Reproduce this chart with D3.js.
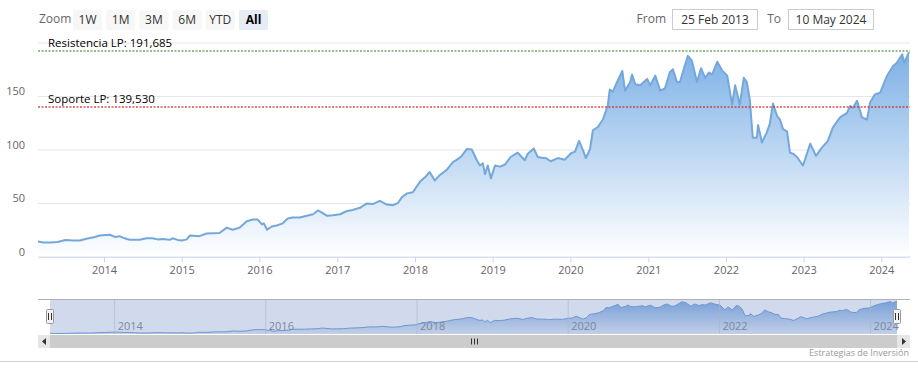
<!DOCTYPE html>
<html>
<head>
<meta charset="utf-8">
<script src="https://cdn.jsdelivr.net/npm/d3@7"></script>
<style>
  body { margin: 0; background: #fff; }
  svg text { font-family: "Open Sans", "DejaVu Sans", sans-serif; }
</style>
</head>
<body>
<svg id="chart" width="918" height="371"></svg>
<script>
/************************************ Data *******************************/
var dates = ["2013-02-25","2013-03-22","2013-04-20","2013-05-28","2013-07-04","2013-08-11","2013-09-09","2013-10-11",
  "2013-11-14","2013-12-12","2014-01-28","2014-02-21","2014-03-15","2014-04-08","2014-05-01","2014-06-17","2014-07-20",
  "2014-08-17","2014-09-10","2014-10-04","2014-11-06","2014-11-20","2014-12-13","2015-01-02","2015-01-25","2015-02-09",
  "2015-03-25","2015-04-28","2015-06-28","2015-08-01","2015-08-28","2015-10-01","2015-11-03","2015-12-01","2015-12-24",
  "2016-01-13","2016-01-22","2016-02-06","2016-02-28","2016-03-22","2016-04-20","2016-05-13","2016-06-06","2016-07-09",
  "2016-08-11","2016-09-09","2016-10-02","2016-10-21","2016-11-14","2016-12-12","2017-01-14","2017-02-16","2017-03-14",
  "2017-04-17","2017-05-19","2017-06-17","2017-07-20","2017-08-22","2017-09-20","2017-10-13","2017-11-01","2017-11-25",
  "2017-12-22","2018-01-25","2018-02-17","2018-03-11","2018-04-04","2018-04-27","2018-05-30","2018-06-27","2018-07-21",
  "2018-08-09","2018-09-02","2018-09-25","2018-10-19","2018-11-02","2018-11-16","2018-11-26","2018-12-09","2018-12-24",
  "2019-01-12","2019-02-05","2019-02-28","2019-03-26","2019-04-29","2019-06-01","2019-06-15","2019-07-13","2019-08-01",
  "2019-08-25","2019-09-08","2019-10-01","2019-11-04","2019-12-06","2020-01-04","2020-01-23","2020-02-11","2020-03-01",
  "2020-03-14","2020-04-02","2020-04-16","2020-05-09","2020-06-02","2020-06-25","2020-07-04","2020-07-19","2020-08-07",
  "2020-09-01","2020-09-14","2020-10-08","2020-10-17","2020-11-01","2020-11-24","2020-12-27","2021-01-10","2021-02-03",
  "2021-02-26","2021-03-20","2021-04-13","2021-04-27","2021-05-16","2021-05-30","2021-06-18","2021-07-06","2021-07-25",
  "2021-08-18","2021-09-06","2021-09-25","2021-10-14","2021-10-28","2021-11-21","2021-12-14","2022-01-07","2022-01-30",
  "2022-02-13","2022-03-07","2022-03-26","2022-04-09","2022-04-23","2022-05-07","2022-05-26","2022-06-01","2022-06-19",
  "2022-07-12","2022-07-26","2022-08-10","2022-08-29","2022-09-12","2022-09-26","2022-10-15","2022-10-29","2022-11-13",
  "2022-12-01","2022-12-25","2022-12-29","2023-01-18","2023-02-01","2023-02-28","2023-03-27","2023-04-25","2023-05-18",
  "2023-06-21","2023-07-23","2023-08-07","2023-08-21","2023-09-09","2023-10-02","2023-10-26","2023-11-09","2023-12-02",
  "2023-12-26","2024-01-28","2024-02-25","2024-03-14","2024-04-08","2024-04-17","2024-05-10"];

var prices = [14,13,13,13.5,15.5,15,15,16.6,18,19.7,20.3,18.3,19,17,15.6,15.6,17,
  17,16,16.4,15.6,17,15.5,15,16,19.7,
  19,21.5,22,27,25,27,33,34.5,34.5,
  30,31,25,28,29,31,35.5,36.5,36.5,
  38,39.5,43,41,38,38.5,39.5,42.5,43.5,
  45.5,49.5,49,52,48.5,48,50,55.5,59,
  60,70,74,79,71,76,81,88,91,
  94,100.5,100,90,85,87,77,85,73,
  85,84,86,93,97,90,96,101,93,
  92,92,89,92,90.5,96.5,98,108,99,
  92,100,118,121,128,141,156,154,163,
  173.5,155,163,170,161,160,166,160,169,
  155,157,172.5,175,163,163,176,187.5,183,
  163,176,167,172,170,182,174,169,142,
  160,142,167,163,147,111,111,123,106.5,
  116,124,143,131.5,128,119,117,97,96,
  93,86,85,97,105.5,94,101.5,108,120.5,
  130,134,140.5,139,145.5,130,128,144,151.5,
  153,169,178,181,189,181,191];

var yTicks = [0, 50, 100, 150, 200];
var zoomButtons = ["1W", "1M", "3M", "6M", "YTD", "All"];
var fromDate = "25 Feb 2013";
var toDate = "10 May 2024";
var levelNames = ["Resistencia LP: 191,685", "Soporte LP: 139,530"];
var levelValues = [191.685, 139.53];
var levelColors = ["#4b9438", "#cc2a24"];

/************************************ Setup *******************************/
var parseDate = d3.timeParse("%Y-%m-%d");
var series = dates.map(function(d, i) { return { date: parseDate(d), value: prices[i] }; });

var svg = d3.select("#chart");
var plotLeft = 38, plotRight = 909, plotTop = 42.5, plotBottom = 256.5;

var x = d3.scaleTime().domain([series[0].date, series[series.length - 1].date]).range([plotLeft, plotRight]);
var y = d3.scaleLinear().domain([0, 200]).range([plotBottom, plotTop]);

var defs = svg.append("defs");
var grad = defs.append("linearGradient").attr("id", "areaGrad")
  .attr("gradientUnits", "userSpaceOnUse").attr("x1", 0).attr("x2", 0).attr("y1", plotTop).attr("y2", plotBottom);
grad.append("stop").attr("offset", 0).attr("stop-color", "#78ade5");
grad.append("stop").attr("offset", 1).attr("stop-color", "#ffffff");

var navGrad = defs.append("linearGradient").attr("id", "navGrad")
  .attr("gradientUnits", "userSpaceOnUse").attr("x1", 0).attr("x2", 0).attr("y1", 299).attr("y2", 334);
navGrad.append("stop").attr("offset", 0).attr("stop-color", "#6d9fdc");
navGrad.append("stop").attr("offset", 1).attr("stop-color", "#e6edf7");

/************************************ Range selector *******************************/
svg.append("text").attr("x", 39).attr("y", 23).attr("font-size", 12).attr("fill", "#666").text("Zoom");

var btn = svg.selectAll("g.btn").data(zoomButtons).enter().append("g")
  .attr("class", "btn")
  .attr("transform", function(d, i) { return "translate(" + (73 + i * 33.2) + ",10)"; });
btn.append("rect").attr("width", 29).attr("height", 20).attr("rx", 2)
  .attr("fill", function(d) { return d == "All" ? "#e6ebf5" : "#f7f7f7"; });
btn.append("text").attr("x", 14.5).attr("y", 14).attr("text-anchor", "middle").attr("font-size", 12)
  .attr("fill", function(d) { return d == "All" ? "#000" : "#333"; })
  .attr("font-weight", function(d) { return d == "All" ? "bold" : "normal"; })
  .text(function(d) { return d; });

svg.append("text").attr("x", 666).attr("y", 23).attr("text-anchor", "end").attr("font-size", 12).attr("fill", "#666").text("From");
svg.append("rect").attr("x", 672.5).attr("y", 9.5).attr("width", 85).attr("height", 20).attr("fill", "#fff").attr("stroke", "#ccc");
svg.append("text").attr("x", 715).attr("y", 24).attr("text-anchor", "middle").attr("font-size", 12).attr("fill", "#333").text(fromDate);
svg.append("text").attr("x", 781).attr("y", 23).attr("text-anchor", "end").attr("font-size", 12).attr("fill", "#666").text("To");
svg.append("rect").attr("x", 788.5).attr("y", 9.5).attr("width", 85).attr("height", 20).attr("fill", "#fff").attr("stroke", "#ccc");
svg.append("text").attr("x", 831).attr("y", 24).attr("text-anchor", "middle").attr("font-size", 12).attr("fill", "#333").text(toDate);

/************************************ Axes *******************************/
var yAxis = svg.append("g").attr("transform", "translate(" + plotLeft + ",0)")
  .call(d3.axisLeft(y).tickValues(yTicks).tickSize(-(plotRight - plotLeft + 1)).tickFormat(function(d) { return d == 200 ? "" : d; }));
yAxis.select(".domain").remove();
yAxis.selectAll("line").attr("stroke", function(d) { return d == 0 ? "#ccd6eb" : "#e6e6e6"; });
yAxis.selectAll("text").attr("x", -13).attr("dy", "-0.1em").attr("font-size", 11).attr("fill", "#666");

var xAxis = svg.append("g").attr("transform", "translate(0," + plotBottom + ")")
  .call(d3.axisBottom(x).ticks(d3.timeYear.every(1)).tickFormat(d3.timeFormat("%Y")).tickSize(6).tickSizeOuter(0));
xAxis.select(".domain").attr("stroke", "#ccd6eb");
xAxis.selectAll("line").attr("stroke", "#ccd6eb");
xAxis.selectAll("text").attr("y", 10).attr("font-size", 11).attr("fill", "#666");

/************************************ Series *******************************/
var area = d3.area().x(function(d) { return x(d.date); }).y0(y(0)).y1(function(d) { return y(d.value); });
var line = d3.line().x(function(d) { return x(d.date); }).y(function(d) { return y(d.value); });

svg.append("path").datum(series).attr("d", area).attr("fill", "url(#areaGrad)");
svg.append("path").datum(series).attr("d", line).attr("fill", "none")
  .attr("stroke", "#74a8da").attr("stroke-width", 2).attr("stroke-linejoin", "round");

/************************************ Levels *******************************/
levelValues.forEach(function(v, i) {
  var ly = Math.round(y(v));
  svg.append("line").attr("x1", plotLeft).attr("x2", plotRight + 1).attr("y1", ly).attr("y2", ly)
    .attr("stroke", levelColors[i]).attr("stroke-width", 1.5).attr("stroke-dasharray", "2,1.5")
    .attr("stroke-opacity", 0.8);
  svg.append("text").attr("x", 48).attr("y", ly - 4).attr("font-size", 11.5).attr("fill", "#000").text(levelNames[i]);
});

/************************************ Navigator *******************************/
var navTop = 299, navBottom = 334;
var xn = d3.scaleTime().domain(x.domain()).range([50, 897]);
var yn = d3.scaleLinear().domain([10, 192]).range([navBottom, navTop + 2]);

var navArea = d3.area().x(function(d) { return xn(d.date); }).y0(navBottom).y1(function(d) { return yn(d.value); });
var navLine = d3.line().x(function(d) { return xn(d.date); }).y(function(d) { return yn(d.value); });
svg.append("path").datum(series).attr("d", navArea).attr("fill", "url(#navGrad)").attr("opacity", 0.9);
svg.append("path").datum(series).attr("d", navLine).attr("fill", "none").attr("stroke", "#6f9fd4").attr("stroke-width", 1);

var navAxis = svg.append("g").attr("transform", "translate(0," + navBottom + ")")
  .call(d3.axisBottom(xn).ticks(d3.timeYear.every(2)).tickFormat(d3.timeFormat("%Y")).tickSize(-(navBottom - navTop)).tickSizeOuter(0));
navAxis.select(".domain").remove();
navAxis.selectAll("line").attr("stroke", "#c8c8c8").attr("stroke-opacity", 0.6);
navAxis.selectAll("text").attr("text-anchor", "start").attr("x", 3).attr("y", -4).attr("dy", 0)
  .attr("font-size", 11).attr("fill", "#888");

// selected range mask
svg.append("rect").attr("x", 50).attr("y", navTop).attr("width", 847).attr("height", navBottom - navTop)
  .attr("fill", "rgba(102,133,194,0.3)");
svg.append("path").attr("d", "M38," + (navTop + 0.5) + "H910").attr("stroke", "#b2b1b6").attr("fill", "none");

// handles
[50, 897].forEach(function(hx) {
  svg.append("rect").attr("x", hx - 3.5).attr("y", 309.5).attr("width", 7).attr("height", 14).attr("rx", 1)
    .attr("fill", "#f2f2f2").attr("stroke", "#999");
  svg.append("path").attr("d", "M" + (hx - 1.5) + ",313V320M" + (hx + 1.5) + ",313V320").attr("stroke", "#333");
});

/************************************ Scrollbar *******************************/
svg.append("rect").attr("x", 38).attr("y", 335).attr("width", 872).attr("height", 13).attr("fill", "#cccccc");
svg.append("rect").attr("x", 38).attr("y", 335).attr("width", 12).attr("height", 13).attr("fill", "#e6e6e6");
svg.append("rect").attr("x", 897).attr("y", 335).attr("width", 13).attr("height", 13).attr("fill", "#e6e6e6");
svg.append("path").attr("d", "M46,338L42,341.5L46,345Z").attr("fill", "#333");
svg.append("path").attr("d", "M902,338L906,341.5L902,345Z").attr("fill", "#333");
svg.append("path").attr("d", "M471.5,338.5V344.5M474.5,338.5V344.5M477.5,338.5V344.5").attr("stroke", "#333");

/************************************ Credits *******************************/
svg.append("text").attr("x", 909).attr("y", 356).attr("text-anchor", "end").attr("font-size", 9).attr("fill", "#999")
  .text("Estrategias de Inversión");
svg.append("line").attr("x1", 0).attr("x2", 918).attr("y1", 361.5).attr("y2", 361.5).attr("stroke", "#d0d0d8");
</script>
</body>
</html>
